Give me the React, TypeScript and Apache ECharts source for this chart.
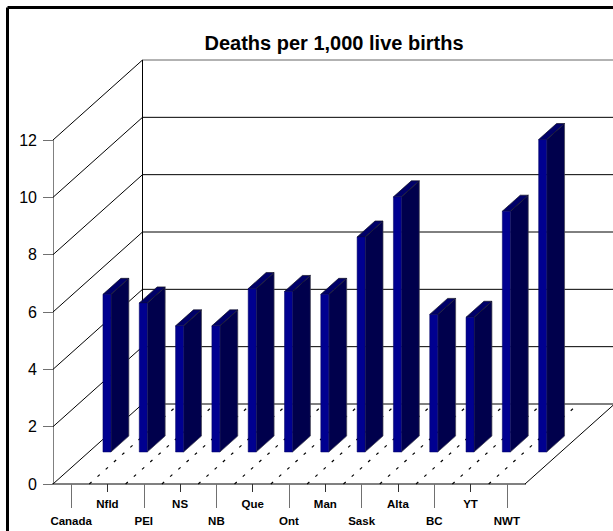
import React, { useEffect, useRef } from "react";
import * as echarts from "echarts";

const categories = ["Canada", "Nfld", "PEI", "NS", "NB", "Que", "Ont", "Man", "Sask", "Alta", "BC", "YT", "NWT"];
const deaths = [5.5, 5.2, 4.4, 4.4, 5.7, 5.6, 5.5, 7.5, 8.9, 4.8, 4.7, 8.4, 10.9];
const yTicks = [0, 2, 4, 6, 8, 10, 12];

const DEPTH_X = 89.5;
const DEPTH_Y = 80;
const BAR_DEPTH_FROM = 0.4;
const BAR_DEPTH = 0.2;
const BAR_W = 8;
const FONT = '"Liberation Sans", Arial, sans-serif';

export default function App() {
  const ref = useRef<HTMLDivElement>(null);
  useEffect(() => {
    const chart = echarts.init(ref.current!, undefined, { renderer: "svg" });
    const n = categories.length;
    const catAxisBase = {
      type: "category",
      data: categories,
      position: "bottom",
      boundaryGap: true,
      axisLine: { show: true, lineStyle: { color: "#808080", width: 2 } },
    };
    chart.setOption({
      animation: false,
      backgroundColor: "#ffffff",
      title: {
        text: "Deaths per 1,000 live births",
        left: 329,
        top: 28,
        textAlign: "center",
        textStyle: { fontFamily: FONT, fontSize: 20, fontWeight: "bold", color: "#000" },
      },
      grid: { left: 53, right: 88, top: 140, bottom: 47, containLabel: false },
      xAxis: [
        {
          ...catAxisBase,
          axisTick: { show: true, alignWithLabel: true, length: 24, interval: (i: number) => i % 2 === 0, lineStyle: { color: "#707070", width: 1 } },
          axisLabel: { show: true, interval: (i: number) => i % 2 === 0, margin: 31, fontFamily: FONT, fontSize: 11.5, fontWeight: "bold", color: "#000" },
        },
        {
          ...catAxisBase,
          axisTick: { show: true, alignWithLabel: true, length: 8, interval: (i: number) => i % 2 === 1, lineStyle: { color: "#303030", width: 1 } },
          axisLabel: { show: true, interval: (i: number) => i % 2 === 1, margin: 14, fontFamily: FONT, fontSize: 11.5, fontWeight: "bold", color: "#000" },
        },
      ],
      yAxis: {
        type: "value",
        min: 0,
        max: 12,
        interval: 2,
        axisLine: { show: true, lineStyle: { color: "#808080", width: 1 } },
        axisTick: { show: true, length: 10, lineStyle: { color: "#707070", width: 1 } },
        axisLabel: { margin: 16, fontFamily: FONT, fontSize: 16, color: "#000" },
        splitLine: { show: false },
      },
      graphic: [
        { type: "line", shape: { x1: 7.5, y1: 7.5, x2: 613, y2: 7.5 }, style: { stroke: "#000", lineWidth: 3 } },
        { type: "line", shape: { x1: 7.5, y1: 7.5, x2: 7.5, y2: 531 }, style: { stroke: "#000", lineWidth: 3 } },
      ],
      series: [
        {
          type: "custom",
          name: "walls",
          coordinateSystem: "cartesian2d",
          z: 1,
          silent: true,
          data: yTicks.map((v) => [0, v]),
          renderItem: (_p: any, api: any) => {
            const v = api.value(1);
            const bw = api.size([1, 0])[0];
            const [c0, y0] = api.coord([0, v]);
            const [c1] = api.coord([n - 1, v]);
            const x0 = c0 - bw / 2;
            const x1 = c1 + bw / 2;
            const bx = x0 + DEPTH_X;
            const by = y0 - DEPTH_Y;
            const ls = { stroke: "#000", lineWidth: 1, fill: "none" };
            const children: any[] = [
              { type: "line", shape: { x1: x0, y1: y0, x2: bx, y2: by }, style: ls },
              { type: "line", shape: { x1: bx, y1: by, x2: x1 + DEPTH_X, y2: by }, style: v === 12 ? { ...ls, stroke: "#666" } : ls },
            ];
            if (v === 12) {
              const [, yz] = api.coord([0, 0]);
              children.push({ type: "line", shape: { x1: bx, y1: by, x2: bx, y2: yz - DEPTH_Y }, style: ls });
            }
            if (v === 0) {
              children.push({ type: "line", shape: { x1: x1, y1: y0, x2: x1 + DEPTH_X, y2: by }, style: ls });
            }
            return { type: "group", children };
          },
        },
        {
          type: "custom",
          name: "floor",
          coordinateSystem: "cartesian2d",
          z: 2,
          silent: true,
          data: categories.slice(0, n - 1).map((_c, i) => [i, 0]),
          renderItem: (_p: any, api: any) => {
            const bw = api.size([1, 0])[0];
            const [c, y] = api.coord([api.value(0), 0]);
            const x = c + bw / 2;
            return {
              type: "line",
              shape: { x1: x, y1: y, x2: x + DEPTH_X, y2: y - DEPTH_Y },
              style: { stroke: "#000", lineWidth: 1.2, lineDash: [3, 8], fill: "none" },
            };
          },
        },
        {
          type: "custom",
          name: "deaths",
          coordinateSystem: "cartesian2d",
          z: 3,
          data: deaths.map((v, i) => [i, v]),
          renderItem: (_p: any, api: any) => {
            const [cx, top] = api.coord([api.value(0), api.value(1)]);
            const [, bot] = api.coord([api.value(0), 0]);
            const ox = DEPTH_X * BAR_DEPTH_FROM;
            const oy = DEPTH_Y * BAR_DEPTH_FROM;
            const dx = DEPTH_X * BAR_DEPTH;
            const dy = DEPTH_Y * BAR_DEPTH;
            const l = cx + ox - BAR_W / 2;
            const r = l + BAR_W;
            const t = top - oy;
            const b = bot - oy;
            return {
              type: "group",
              children: [
                { type: "polygon", shape: { points: [[r, t], [r + dx, t - dy], [r + dx, b - dy], [r, b]] }, style: { fill: "#00004c", stroke: "#444450", lineWidth: 0.7 } },
                { type: "polygon", shape: { points: [[l, t], [l + dx, t - dy], [r + dx, t - dy], [r, t]] }, style: { fill: "#000068", stroke: "#111122", lineWidth: 0.7 } },
                { type: "rect", shape: { x: l, y: t, width: BAR_W, height: b - t }, style: { fill: "#000090", stroke: "#000060", lineWidth: 0.5 } },
              ],
            };
          },
        },
      ],
    });
    return () => chart.dispose();
  }, []);
  return <div ref={ref} style={{ position: "absolute", left: 0, top: 0, width: 613, height: 531, overflow: "hidden" }} />;
}
